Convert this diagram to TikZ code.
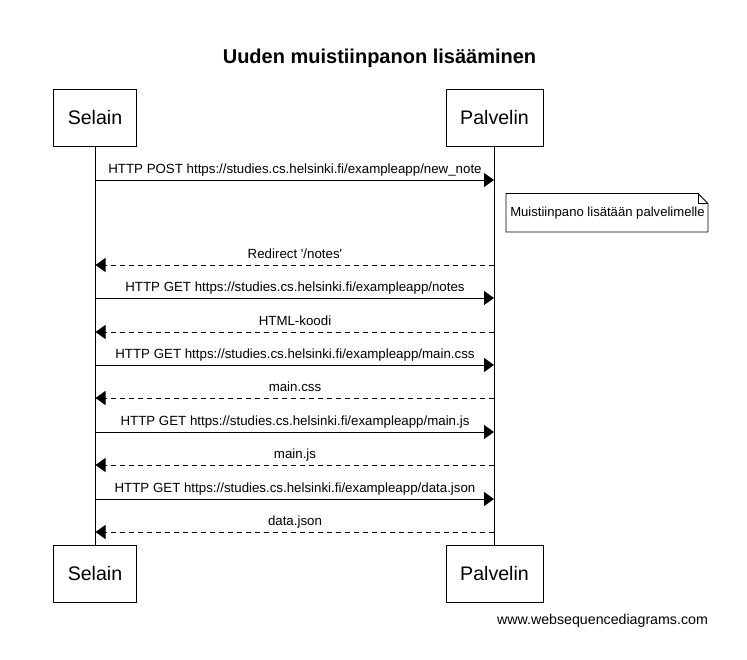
\documentclass[tikz,border=0pt]{standalone}
\usepackage{fontspec}
\setmainfont{Liberation Sans}[Ligatures=TeXOff]
\usetikzlibrary{arrows.meta}
\begin{document}
\begin{tikzpicture}[x=1pt,y=-1pt,
  actor/.style={draw,line width=0.9pt,minimum width=83pt,minimum height=57pt,inner sep=0pt,font=\fontsize{19.6}{22}\selectfont},
  actorb/.style={actor,minimum width=97pt},
  life/.style={line width=0.9pt},
  msg/.style={line width=0.9pt,-{Triangle[length=10pt,width=14pt]}},
  ret/.style={msg,dash pattern=on 5pt off 4pt},
  lbl/.style={font=\fontsize{13.3}{15}\selectfont,inner sep=0pt,anchor=base}]
\useasboundingbox (0,0) rectangle (747,660);
\node[font=\bfseries\fontsize{20}{23}\selectfont,anchor=base] (title) at (379.5,64) {Uuden muistiinpanon lisääminen};
\node[actor] (s1) at (95,117.5) {Selain};
\node[actorb] (p1) at (494.5,117.5) {Palvelin};
\node[actor] (s2) at (95,573.5) {Selain};
\node[actorb] (p2) at (494.5,573.5) {Palvelin};
\draw[life] (s1.south) -- (s2.north);
\draw[life] (p1.south) -- (p2.north);
% messages
\foreach \y/\t/\k in {180/{HTTP POST https://studies.cs.helsinki.fi/exampleapp/new\_note}/a,
  298/{HTTP GET https://studies.cs.helsinki.fi/exampleapp/notes}/b,
  365/{HTTP GET https://studies.cs.helsinki.fi/exampleapp/main.css}/c,
  432/{HTTP GET https://studies.cs.helsinki.fi/exampleapp/main.js}/d,
  499/{HTTP GET https://studies.cs.helsinki.fi/exampleapp/data.json}/e}{
  \coordinate (sa\k) at (95.5,\y);
  \coordinate (pa\k) at (494,\y);
  \draw[msg] (sa\k) -- (pa\k);
  \node[lbl] (l\k) at (295,\y-6.5) {\t};
}
\foreach \y/\t/\k in {265/{Redirect '/notes'}/f,
  332/{HTML-koodi}/g,
  398/{main.css}/h,
  465/{main.js}/i,
  532/{data.json}/j}{
  \coordinate (pr\k) at (494,\y);
  \coordinate (sr\k) at (95.5,\y);
  \draw[ret] (pr\k) -- (sr\k);
  \node[lbl] (l\k) at (295,\y-6.5) {\t};
}
% note
\draw[line width=0.9pt] (506,193.5) -- (698,193.5) -- (708,203.5) -- (708,232) -- (506,232) -- cycle;
\draw[line width=0.9pt] (698,193.5) -- (698,203.5) -- (708,203.5);
\node[font=\fontsize{13.1}{15}\selectfont,inner sep=0pt] (note) at (607.5,213.5) {Muistiinpano lisätään palvelimelle};
\node[font=\fontsize{14.2}{16}\selectfont,inner sep=0pt] (wsd) at (602.5,621) {www.websequencediagrams.com};
\end{tikzpicture}
\end{document}
